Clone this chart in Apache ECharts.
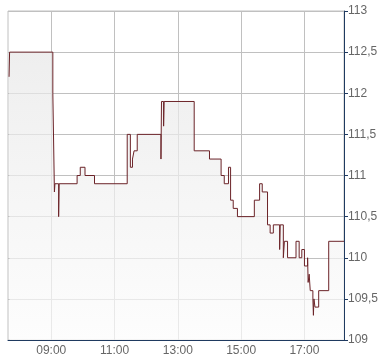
<!DOCTYPE html>
<html>
<head>
<meta charset="utf-8">
<script src="https://cdn.jsdelivr.net/npm/echarts@6/dist/echarts.min.js"></script>
<style>html,body{margin:0;padding:0;background:#fff}#c{width:390px;height:364px}</style>
</head>
<body>
<div id="c"></div>
<script>
// Step-change times (HH:MM) and the price that holds from each time
var times = ["07:40","07:41","09:03","09:06","09:07","09:14","09:15","09:49","09:55","10:04",
  "10:22","11:24","11:30","11:34","11:37","11:43","12:28","12:29","12:33","12:34",
  "13:31","14:00","14:22","14:28","14:36","14:40","14:45","14:53","15:25","15:35",
  "15:40","15:50","15:55","16:01","16:13","16:14","16:20","16:22","16:28","16:44",
  "16:50","16:55","17:00","17:06","17:07","17:09","17:11","17:16","17:17","17:18",
  "17:20","17:27","17:46","18:15"];
var prices = [112.2,112.5,112.0,110.8,110.9,110.5,110.9,111.0,111.1,111.0,
  110.9,111.5,111.1,111.2,111.3,111.5,111.2,111.9,111.6,111.9,
  111.3,111.2,111.0,110.9,111.1,110.7,110.6,110.5,110.7,110.9,
  110.8,110.4,110.3,110.4,110.1,110.4,110.0,110.2,110.0,110.2,
  110.0,110.1,109.9,110.0,109.7,109.8,109.6,109.5,109.3,109.5,
  109.4,109.6,110.2,110.2];
var xTickLabels = ["09:00","11:00","13:00","15:00","17:00"];
var axisStart = "07:38", axisEnd = "18:15";
var yTicks = [109,109.5,110,110.5,111,111.5,112,112.5,113];

function toMin(s){var p=s.split(":");return (+p[0])*60+(+p[1]);}
function pad(n){return (n<10?"0":"")+n;}
var data = times.map(function(t,i){return [toMin(t), prices[i]];});
var xTicks = xTickLabels.map(toMin);

var chart = echarts.init(document.getElementById('c'));
chart.setOption({
  animation:false,
  backgroundColor:'#ffffff',
  grid:{left:8,top:11,right:46,bottom:24,show:true,borderColor:'#c0c0c0',borderWidth:1,containLabel:false},
  xAxis:{
    type:'value', min:toMin(axisStart), max:toMin(axisEnd),
    axisLine:{show:true,lineStyle:{color:'#1f3a60',width:1}},
    axisTick:{show:false,customValues:xTicks},
    axisLabel:{customValues:xTicks,color:'#666666',fontFamily:'Arial, "Liberation Sans", sans-serif',fontSize:12,margin:5,
      formatter:function(v){return pad(Math.floor(v/60))+":"+pad(v%60);}},
    splitLine:{show:true,lineStyle:{color:'#c0c0c0',width:1}}
  },
  yAxis:{
    type:'value', position:'right', min:yTicks[0], max:yTicks[yTicks.length-1], interval:0.5,
    axisLine:{show:true,lineStyle:{color:'#1f3a60',width:1}},
    axisTick:{show:true,length:4,lineStyle:{color:'#1f3a60'}},
    axisLabel:{color:'#666666',fontFamily:'Arial, "Liberation Sans", sans-serif',fontSize:12,margin:4,
      formatter:function(v){return String(v).replace('.',',');}},
    splitLine:{show:true,lineStyle:{color:'#c0c0c0',width:1}}
  },
  series:[{
    type:'line', step:'end', data:data, symbol:'none', silent:true,
    lineStyle:{color:'#6b2328',width:1},
    areaStyle:{color:new echarts.graphic.LinearGradient(0,0,0,1,[{offset:0,color:'#e7e7e7'},{offset:1,color:'#fcfcfc'}])}
  }]
});
</script>
</body>
</html>
